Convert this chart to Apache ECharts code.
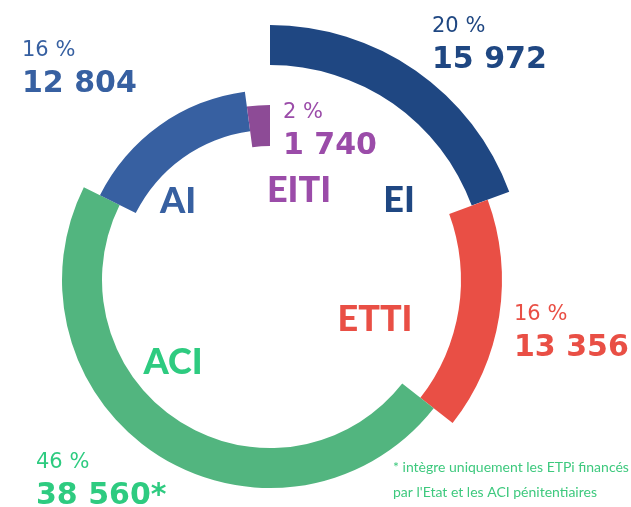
<!DOCTYPE html>
<html>
<head>
<meta charset="utf-8">
<script src="https://cdn.jsdelivr.net/npm/echarts@6/dist/echarts.min.js"></script>
<style>
  html, body { margin: 0; padding: 0; background: #fff; }
  #chart { width: 631px; height: 507px; }
</style>
</head>
<body>
<div id="chart"></div>
<script>
// data, clockwise from 12 o'clock
const categories = ['EI', 'ETTI', 'ACI', 'AI', 'EITI']
const values = [15972, 13356, 38560, 12804, 1740]
const pctLabels = ['20 %', '16 %', '46 %', '16 %', '2 %']
const valueSuffix = ['', '', '*', '', '']
const footnote = ['* intègre uniquement les ETPi financés', 'par l\'Etat et les ACI pénitentiaires']

// styling
const arcColors = ['#1f4782', '#e94f45', '#52b57f', '#3760a1', '#8d4b96']
const textColors = ['#1f4782', '#e94f45', '#2ecb80', '#3760a1', '#9b4ca9']
const rings = [[215, 255], [191, 232], [168, 208], [150, 190], [134, 175]]
const center = [270, 280]
const NAME_FONT = 'Lato, "Open Sans", sans-serif'
const NUM_FONT = '"DejaVu Sans", sans-serif'

// label positions (x, y of the % line) and name positions
const valuePos = [[432, 16], [514, 304], [36, 452], [22, 40], [283, 102]]
const namePos = [[399, 200], [375, 319], [173, 362], [178, 201], [299, 190]]

function fmt(v) {
  return String(v).replace(/\B(?=(\d{3})+(?!\d))/g, ' ')
}

const chart = echarts.init(document.getElementById('chart'), null, { renderer: 'canvas' })

const series = categories.map((name, i) => ({
  type: 'pie',
  center: center,
  radius: rings[i],
  startAngle: 90,
  clockwise: true,
  silent: true,
  animation: false,
  label: { show: false },
  labelLine: { show: false },
  emphasis: { disabled: true },
  itemStyle: { borderWidth: 0 },
  data: categories.map((n, j) => ({
    name: n,
    value: values[j],
    itemStyle: { color: j === i ? arcColors[i] : 'rgba(0,0,0,0)' }
  }))
}))

const graphic = []
categories.forEach((name, i) => {
  const [x, y] = valuePos[i]
  graphic.push({
    type: 'text', left: x, top: y,
    style: { text: pctLabels[i], fill: textColors[i], font: '400 21px ' + NUM_FONT }
  })
  graphic.push({
    type: 'text', left: x, top: y + 29,
    style: { text: fmt(values[i]) + valueSuffix[i], fill: textColors[i], font: 'bold 30px ' + NUM_FONT }
  })
  graphic.push({
    type: 'text', x: namePos[i][0], y: namePos[i][1],
    style: {
      text: name, fill: textColors[i], font: '900 36px ' + NAME_FONT,
      align: 'center', verticalAlign: 'middle'
    }
  })
})
footnote.forEach((line, k) => {
  graphic.push({
    type: 'text', left: 393, top: 460 + k * 25,
    style: { text: line, fill: '#3ec97e', font: '400 14px ' + NAME_FONT }
  })
})

chart.setOption({
  backgroundColor: '#fff',
  animation: false,
  series: series,
  graphic: graphic
})
</script>
</body>
</html>
